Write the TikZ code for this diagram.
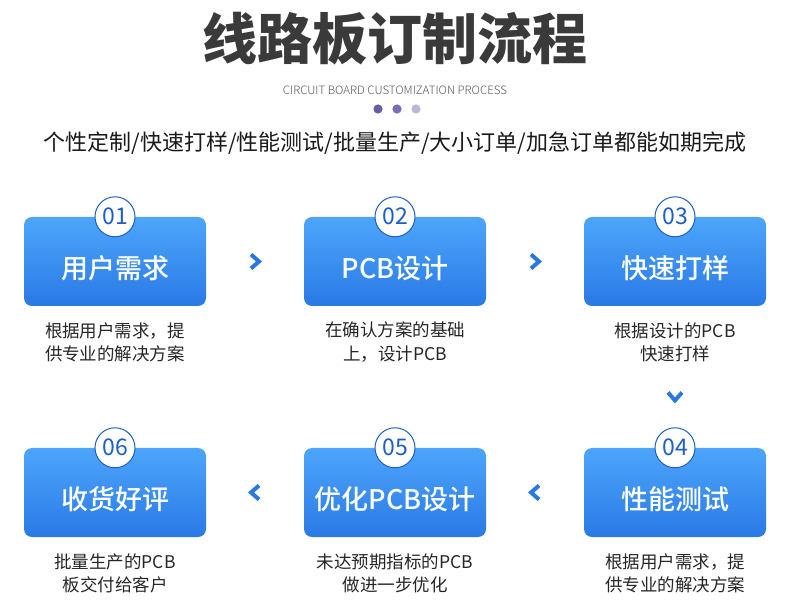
\documentclass[tikz,border=0pt]{standalone}
\usepackage{fontspec}
\setmainfont{Noto Sans CJK SC}
\newfontfamily\cjkmed{Noto Sans CJK SC Medium}
\newfontfamily\cjklight{Noto Sans CJK SC Light}
\usepackage{xcolor}
\usetikzlibrary{calc}

\definecolor{boxtop}{HTML}{4DA6FA}
\definecolor{boxbot}{HTML}{2A79E6}
\definecolor{numblue}{HTML}{1E5FC6}
\definecolor{chevblue}{HTML}{2878E0}
\definecolor{titlegray}{HTML}{3A3A3A}
\definecolor{subgray}{HTML}{555555}
\definecolor{dotA}{HTML}{6A5AA8}
\definecolor{dotB}{HTML}{7A6CB6}
\definecolor{dotC}{HTML}{B9B6D6}

\tikzset{
  stepbox/.style={rounded corners=8pt, minimum width=182pt, minimum height=89pt,
    inner sep=0pt, top color=boxtop, bottom color=boxbot},
  steplabel/.style={text=white, font=\fontsize{27}{27}\selectfont\cjkmed},
  numcircle/.style={circle, draw=numblue, line width=1pt, fill=white,
    minimum size=40pt, inner sep=0pt, text=numblue, font=\fontsize{23}{23}\selectfont},
  desc/.style={align=center, text=black!85, font=\fontsize{17.5}{23.5}\selectfont},
  chevron/.pic={\draw[chevblue, line width=4pt, miter limit=10]
    (-4,-7) -- (4,0) -- (-4,7);}
}

\begin{document}
\begin{tikzpicture}[x=1pt, y=-1pt]
  \useasboundingbox (0,0) rectangle (790,609);
  % Title
  \node[text=titlegray, font=\fontsize{55}{55}\selectfont\bfseries] (title) at (395,39) {线路板订制流程};
  \node[text=subgray, font=\fontsize{11.5}{11.5}\selectfont\cjklight] (subtitle) at (395,90) {CIRCUIT BOARD CUSTOMIZATION PROCESS};
  % Dots
  \fill[dotA] (378,109) circle (4.6);
  \fill[dotB] (397,109) circle (4.6);
  \fill[dotC] (416,109) circle (4.6);
  % Slogan
  \node[text=black!90, font=\fontsize{22}{22}\selectfont] (slogan) at (395,143)
    {个性定制/快速打样/性能测试/批量生产/大小订单/加急订单都能如期完成};
  % Steps
  \foreach \n/\x/\y/\lab/\txt in {
      01/115/261.5/用户需求/{根据用户需求，提\\供专业的解决方案},
      02/395/261.5/PCB设计/{在确认方案的基础\\上，设计PCB},
      03/675/261.5/快速打样/{根据设计的PCB\\快速打样},
      04/675/492.5/性能测试/{根据用户需求，提\\供专业的解决方案},
      05/395/492.5/优化PCB设计/{未达预期指标的PCB\\做进一步优化},
      06/115/492.5/收货好评/{批量生产的PCB\\板交付给客户}} {
    \node[stepbox] (b\n) at (\x,\y) {};
    \node[steplabel] (t\n) at ([yshift=-7pt]b\n.center) {\lab};
    \node[numcircle] (c\n) at (b\n.north) {\n};
    \node[desc] (d\n) at ([yshift=-36pt]b\n.south) {\txt};
  }
  % Chevrons between steps
  \pic at ($(b01.east)!0.5!(b02.west)$) {chevron};
  \pic at ($(b02.east)!0.5!(b03.west)$) {chevron};
  \pic[rotate=-90] at ($(d03.south)!0.5!(c04.north)$) {chevron};
  \pic[rotate=180] at ($(b04.west)!0.5!(b05.east)$) {chevron};
  \pic[rotate=180] at ($(b05.west)!0.5!(b06.east)$) {chevron};
\end{tikzpicture}
\end{document}
